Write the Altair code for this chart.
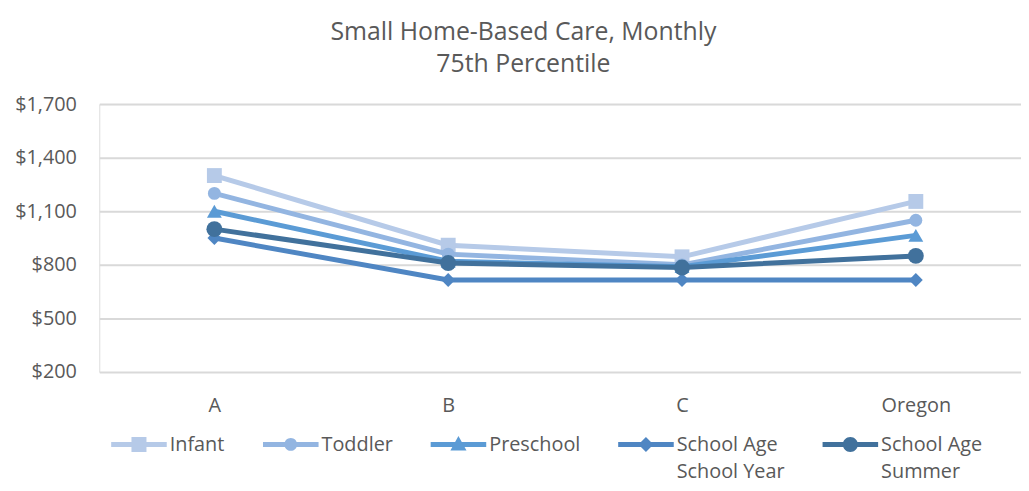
import altair as alt
import pandas as pd

# ---- data ----
categories = ["A", "B", "C", "Oregon"]
series_names = ["Infant", "Toddler", "Preschool", "School Age School Year", "School Age Summer"]
infant = [1300, 910, 845, 1155]
toddler = [1200, 860, 800, 1050]
preschool = [1100, 820, 790, 965]
school_year = [950, 715, 715, 715]
summer = [1000, 810, 785, 850]
y_ticks = [200, 500, 800, 1100, 1400, 1700]

values_by_series = [infant, toddler, preschool, school_year, summer]
rows = []
for s, vals in zip(series_names, values_by_series):
    for i, (c, v) in enumerate(zip(categories, vals)):
        rows.append({"idx": i, "region": c, "series": s, "cost": v})
df = pd.DataFrame(rows)

# ---- styling ----
FONT = "Open Sans"
TEXT = "#595959"
LABEL_SIZE = 20
LABEL_DY = 7
colors = ["#B6CAE8", "#93B5E1", "#5B9BD5", "#4F86C3", "#41719C"]
shapes = ["square", "circle", "triangle-up", "diamond", "circle"]
sizes = [225, 169, 225, 196, 256]

line_part = "M-1,-0.09H1V0.09H-1Z"
legend_paths = [
    line_part + "M-0.27,-0.27H0.27V0.27H-0.27Z",
    line_part + "M0.23,0A0.23,0.23,0,1,1,-0.23,0A0.23,0.23,0,1,1,0.23,0Z",
    line_part + "M0,-0.3L0.29,0.22L-0.29,0.22Z",
    line_part + "M0,-0.27L0.27,0L0,0.27L-0.27,0Z",
    line_part + "M0.27,0A0.27,0.27,0,1,1,-0.27,0A0.27,0.27,0,1,1,0.27,0Z",
]
names_js = "[" + ",".join("'" + n + "'" for n in series_names) + "]"
paths_js = "[" + ",".join("'" + p + "'" for p in legend_paths) + "]"
cats_js = "[" + ",".join("'" + c + "'" for c in categories) + "]"
shape_signal = paths_js + "[indexof(" + names_js + ", datum.value)]"

# plot is 929px wide; categories sit at 116px and 823px from its left edge
x_lo = -116 / 235.667
x_hi = x_lo + 929 / 235.667

x_enc = alt.X(
    "idx:Q",
    scale=alt.Scale(domain=[x_lo, x_hi], nice=False, zero=False),
    axis=alt.Axis(
        title=None, values=list(range(len(categories))), labelExpr=cats_js + "[datum.value]",
        labelAngle=0, domain=False, ticks=False, grid=False,
        labelFont=FONT, labelFontSize=LABEL_SIZE, labelColor=TEXT, labelPadding=17,
    ),
)
y_enc = alt.Y(
    "cost:Q",
    scale=alt.Scale(domain=[200, 1700], nice=False, zero=False),
    axis=alt.Axis(
        title=None, values=y_ticks, format="$,.0f", domain=False, ticks=False,
        grid=True, gridColor="#D9D9D9", gridWidth=2,
        labelFont=FONT, labelFontSize=LABEL_SIZE, labelColor=TEXT, labelPadding=23,
        labelOffset=-LABEL_DY,
    ),
)
color_enc = alt.Color(
    "series:N",
    scale=alt.Scale(domain=series_names, range=colors),
    legend=alt.Legend(
        title=None,
        orient="none",
        legendX=12,
        legendY=315,
        direction="horizontal",
        symbolSize=3136,
        symbolType=alt.ExprRef(shape_signal),
        symbolFillColor=alt.ExprRef("scale('color', datum.value)"),
        symbolStrokeWidth=0,
        symbolOpacity=1,
        labelFont=FONT,
        labelFontSize=LABEL_SIZE,
        labelColor=TEXT,
        labelOffset=3,
        columnPadding=38,
        labelBaseline="alphabetic",
        labelExpr="indexof(datum.label, 'School Age ') == 0 ? ['School Age', substring(datum.label, 11)] : [datum.label, ' ']",
    ),
)

layers = []
for s, shp, sz in zip(series_names, shapes, sizes):
    base = alt.Chart(df).transform_filter(alt.datum.series == s)
    layers.append(base.mark_line(strokeWidth=5).encode(x=x_enc, y=y_enc, color=color_enc))
    layers.append(
        base.mark_point(filled=True, opacity=1, strokeWidth=0, shape=shp, size=sz).encode(
            x=x_enc, y=y_enc, color=color_enc
        )
    )

chart = (
    alt.layer(*layers)
    .properties(
        width=929,
        height=270,
        padding={"left": 92, "top": 95, "right": 0, "bottom": 110},
        autosize=alt.AutoSizeParams(type="none"),
        title=alt.TitleParams(
            ["Small Home-Based Care, Monthly", "75th Percentile"],
            font=FONT, fontSize=25, fontWeight="normal", color=TEXT,
            lineHeight=33, anchor="middle", dx=-37, offset=17,
        ),
        background="white",
    )
    .configure_view(stroke=None)
    .configure(style={"guide-label": {"dy": LABEL_DY, "lineHeight": 27}})
)

chart.save("out.html", embed_options={"renderer": "svg", "actions": False})
